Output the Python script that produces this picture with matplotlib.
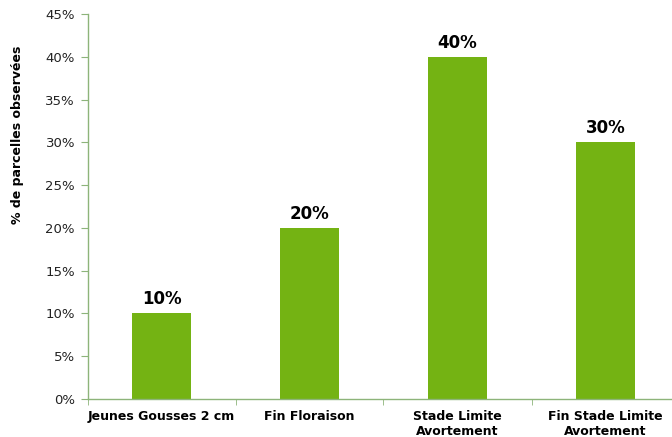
import matplotlib
matplotlib.use("Agg")
import matplotlib.pyplot as plt
from matplotlib.ticker import FuncFormatter, MultipleLocator, FixedLocator

categories = ["Jeunes Gousses 2 cm", "Fin Floraison", "Stade Limite\nAvortement", "Fin Stade Limite\nAvortement"]
values = [10, 20, 40, 30]

plt.rcParams['font.family'] = ['DejaVu Sans']
W, H = 672, 437
fig = plt.figure(figsize=(W/100, H/100), dpi=100)
left, right, bottom, top = 87.5, 679.5, 399, 14
ax = fig.add_axes([left/W, (H-bottom)/H, (right-left)/W, (bottom-top)/H])

bar_color = '#74B313'
axis_color = '#8DB47A'
x = list(range(len(categories)))
bars = ax.bar(x, values, width=0.395, color=bar_color, zorder=2)
for xi, v in zip(x, values):
    ax.text(xi, v + 0.6, f"{v}%", ha='center', va='bottom', fontsize=12, fontweight='bold', color='black')

ax.set_xlim(-0.5, len(categories) - 0.5)
ax.set_ylim(0, 45)
ax.yaxis.set_major_locator(MultipleLocator(5))
ax.yaxis.set_major_formatter(FuncFormatter(lambda v, p: f"{int(round(v))}%"))
ax.set_xticks(x)
ax.set_xticklabels(categories, fontsize=9, fontweight='bold')
ax.xaxis.set_minor_locator(FixedLocator([i + 0.5 for i in range(-1, len(categories))]))
ax.tick_params(axis='x', which='major', length=0, pad=8)
ax.tick_params(axis='x', which='minor', length=4, color=axis_color, direction='out')
ax.tick_params(axis='y', which='major', length=5, color=axis_color, labelsize=9.5, direction='out', pad=4)
ax.tick_params(axis='y', labelcolor='#222222')

for s in ['top', 'right']:
    ax.spines[s].set_visible(False)
for s in ['left', 'bottom']:
    ax.spines[s].set_color(axis_color)
    ax.spines[s].set_linewidth(1.0)

fig.text(18/W, 1 - 135/H, "% de parcelles observées", rotation=90, ha='center', va='center',
         fontsize=9, fontweight='bold')

fig.savefig("out.png", dpi=100)
